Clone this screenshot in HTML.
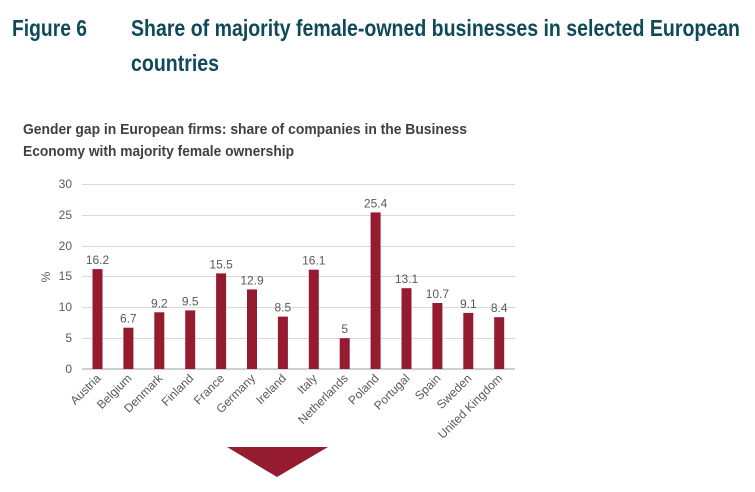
<!DOCTYPE html>
<html><head><meta charset="utf-8"><style>
html,body{margin:0;padding:0;background:#fff;width:755px;height:492px;overflow:hidden}
</style></head><body>
<svg width="755" height="492" xmlns="http://www.w3.org/2000/svg" font-family="Liberation Sans, sans-serif">
<g fill="#0f4a58" font-size="23" font-weight="bold">
<text x="12" y="36" textLength="75" lengthAdjust="spacingAndGlyphs">Figure 6</text>
<text x="131" y="36" textLength="609" lengthAdjust="spacingAndGlyphs">Share of majority female-owned businesses in selected European</text>
<text x="131" y="71" textLength="88" lengthAdjust="spacingAndGlyphs">countries</text>
</g>
<g fill="#404040" font-size="15" font-weight="bold">
<text x="23" y="134" textLength="444" lengthAdjust="spacingAndGlyphs">Gender gap in European firms: share of companies in the Business</text>
<text x="23" y="156" textLength="271" lengthAdjust="spacingAndGlyphs">Economy with majority female ownership</text>
</g>
<g stroke="#d9d9d9" stroke-width="1">
<line x1="82" x2="515" y1="184.5" y2="184.5"/>
<line x1="82" x2="515" y1="215.5" y2="215.5"/>
<line x1="82" x2="515" y1="246.5" y2="246.5"/>
<line x1="82" x2="515" y1="276.5" y2="276.5"/>
<line x1="82" x2="515" y1="307.5" y2="307.5"/>
<line x1="82" x2="515" y1="338.5" y2="338.5"/>
</g>
<line x1="82" x2="515" y1="369" y2="369" stroke="#bfbfbf" stroke-width="1.5"/>
<g fill="#595959" font-size="12" text-anchor="end">
<text x="72" y="188">30</text><text x="72" y="219">25</text><text x="72" y="250">20</text>
<text x="72" y="280">15</text><text x="72" y="311">10</text><text x="72" y="342">5</text><text x="72" y="373">0</text>
</g>
<text transform="translate(50,277) rotate(-90)" fill="#595959" font-size="12" text-anchor="middle">%</text>
<g fill="#951b30">
<rect x="92.5" y="269.1" width="10" height="99.9"/>
<rect x="123.4" y="327.7" width="10" height="41.3"/>
<rect x="154.3" y="312.3" width="10" height="56.7"/>
<rect x="185.2" y="310.4" width="10" height="58.6"/>
<rect x="216.1" y="273.4" width="10" height="95.6"/>
<rect x="247" y="289.4" width="10" height="79.6"/>
<rect x="277.9" y="316.6" width="10" height="52.4"/>
<rect x="308.8" y="269.7" width="10" height="99.3"/>
<rect x="339.7" y="338.2" width="10" height="30.8"/>
<rect x="370.6" y="212.4" width="10" height="156.6"/>
<rect x="401.5" y="288.2" width="10" height="80.8"/>
<rect x="432.4" y="303" width="10" height="66"/>
<rect x="463.3" y="312.9" width="10" height="56.1"/>
<rect x="494.2" y="317.2" width="10" height="51.8"/>
</g>
<g fill="#595959" font-size="12" text-anchor="middle">
<text x="97.5" y="264">16.2</text>
<text x="128.4" y="322.7">6.7</text>
<text x="159.3" y="307.3">9.2</text>
<text x="190.2" y="305.4">9.5</text>
<text x="221.1" y="268.4">15.5</text>
<text x="252" y="284.4">12.9</text>
<text x="282.9" y="311.6">8.5</text>
<text x="313.8" y="264.7">16.1</text>
<text x="344.7" y="333.2">5</text>
<text x="375.6" y="207.4">25.4</text>
<text x="406.5" y="283.2">13.1</text>
<text x="437.4" y="298">10.7</text>
<text x="468.3" y="307.9">9.1</text>
<text x="499.2" y="312.2">8.4</text>
</g>
<g fill="#595959" font-size="12" text-anchor="end">
<text transform="translate(101.5,379) rotate(-45)">Austria</text>
<text transform="translate(132.4,379) rotate(-45)">Belgium</text>
<text transform="translate(163.3,379) rotate(-45)">Denmark</text>
<text transform="translate(194.2,379) rotate(-45)">Finland</text>
<text transform="translate(225.1,379) rotate(-45)">France</text>
<text transform="translate(256,379) rotate(-45)">Germany</text>
<text transform="translate(286.9,379) rotate(-45)">Ireland</text>
<text transform="translate(317.8,379) rotate(-45)">Italy</text>
<text transform="translate(348.7,379) rotate(-45)">Netherlands</text>
<text transform="translate(379.6,379) rotate(-45)">Poland</text>
<text transform="translate(410.5,379) rotate(-45)">Portugal</text>
<text transform="translate(441.4,379) rotate(-45)">Spain</text>
<text transform="translate(472.3,379) rotate(-45)">Sweden</text>
<text transform="translate(503.2,379) rotate(-45)">United Kingdom</text>
</g>
<polygon points="227,447 328,447 277,477" fill="#951b30"/>
</svg>
</body></html>
